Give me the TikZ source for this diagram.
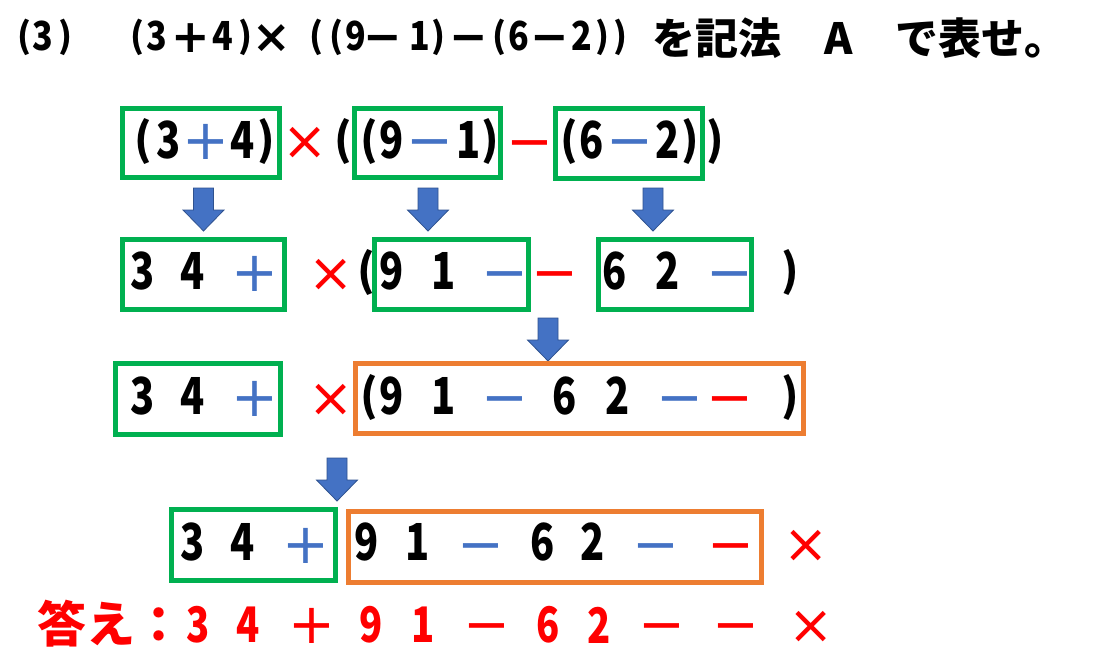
\documentclass[tikz,border=0pt]{standalone}
\usepackage{fontspec}
\usepackage{graphicx}
\newfontfamily\jp{Noto Sans CJK JP}
\newfontfamily\dv{DejaVu Sans}
\definecolor{cgreen}{HTML}{00B050}
\definecolor{corange}{HTML}{ED7D31}
\definecolor{cblue}{HTML}{4472C4}
\definecolor{cred}{HTML}{FF0000}
\definecolor{carrowline}{HTML}{2F528F}
\newcommand\nd[1]{\scalebox{0.78}[1]{#1}}
\newcommand\tnd[1]{\scalebox{0.85}[1]{#1}}
\newcommand\blockarrow[2]{%
  \draw[barrow] (#1-10,#2) -- (#1+10,#2) -- (#1+10,#2+22) -- (#1+20.5,#2+22)
     -- (#1,#2+43) -- (#1-20.5,#2+22) -- (#1-10,#2+22) -- cycle;}
\tikzset{
  glyph/.style={inner sep=0pt, outer sep=0pt, anchor=center},
  dig/.style={glyph, font=\jp\bfseries\fontsize{51}{51}\selectfont},
  par/.style={glyph, font=\jp\bfseries\fontsize{44}{44}\selectfont},
  sym/.style={inner sep=0pt, outer sep=0pt, anchor=base, yshift=-20pt, font=\dv\fontsize{56}{56}\selectfont},
  tms/.style={inner sep=0pt, outer sep=0pt, anchor=base, yshift=-19pt, text=cred, font=\dv\fontsize{54}{54}\selectfont},
  tdig/.style={glyph, font=\jp\bfseries\fontsize{40}{40}\selectfont},
  tpar/.style={glyph, font=\jp\bfseries\fontsize{35}{35}\selectfont},
  tsym/.style={inner sep=0pt, outer sep=0pt, anchor=base, yshift=-16.5pt, font=\dv\bfseries\fontsize{46}{46}\selectfont},
  ttxt/.style={glyph, anchor=west, font=\jp\bfseries\fontsize{43}{43}\selectfont},
  ans/.style={glyph, text=cred, font=\jp\bfseries\fontsize{49}{49}\selectfont},
  gbox/.style={draw=cgreen, line width=5pt, inner sep=0pt, fill=none},
  obox/.style={draw=corange, line width=5pt, inner sep=0pt, fill=none},
  barrow/.style={fill=cblue, draw=carrowline, line width=0.8pt, line join=miter},
}
\begin{document}
\begin{tikzpicture}[x=1pt,y=-1pt]
\fill[white] (0,0) rectangle (1098,653);
\useasboundingbox (0,0) rectangle (1098,653);
% ---------------- title
\node[tpar] (t1) at (24,37) {(};
\node[tdig] (t2) at (43,36) {\tnd{3}};
\node[tpar] (t3) at (65,37) {)};
\node[tpar] (t4) at (137.5,37) {(};
\node[tdig] (t5) at (157,36) {\tnd{3}};
\node[tsym] (t6) at (191,36) {+};
\node[tdig] (t7) at (223,36) {\tnd{4}};
\node[tpar] (t8) at (245,37) {)};
\node[tsym] (t9) at (272,36) {×};
\node[tpar] (t10) at (316,37) {(};
\node[tpar] (t11) at (336,37) {(};
\node[tdig] (t12) at (355.5,36) {\tnd{9}};
\node[tsym] (t13) at (383,36) {−};
\node[tdig] (t14) at (420,36) {\tnd{1}};
\node[tpar] (t15) at (438.5,37) {)};
\node[tsym] (t16) at (468.5,36) {−};
\node[tpar] (t17) at (499,37) {(};
\node[tdig] (t18) at (519,36) {\tnd{6}};
\node[tsym] (t19) at (550,36) {−};
\node[tdig] (t20) at (582,36) {\tnd{2}};
\node[tpar] (t21) at (602.5,37) {)};
\node[tpar] (t22) at (620,37) {)};
\node[ttxt] (t23) at (652,38) {を記法\hspace{1em}A\hspace{1em}で表せ。};
% ---------------- row 1
\node[par] (r1p1) at (143.5,141.5) {(};
\node[dig] (r1d3) at (168.5,140) {\nd{3}};
\node[sym,text=cblue] (r1s1) at (205.5,139) {+};
\node[dig] (r1d4) at (242.5,140) {\nd{4}};
\node[par] (r1p2) at (266.5,141.5) {)};
\node[tms] (r1x) at (305,140) {×};
\node[par] (r1p3) at (343.5,141.5) {(};
\node[par] (r1p4) at (369.5,141.5) {(};
\node[dig] (r1d9) at (392,140) {\nd{9}};
\node[sym,text=cblue] (r1s2) at (430,139) {−};
\node[dig] (r1d1) at (468.5,140) {\nd{1}};
\node[par] (r1p5) at (490.5,141.5) {)};
\node[sym,text=cred] (r1s3) at (530,140) {−};
\node[par] (r1p6) at (569.5,141.5) {(};
\node[dig] (r1d6) at (591.5,140) {\nd{6}};
\node[sym,text=cblue] (r1s4) at (630,139) {−};
\node[dig] (r1d2) at (668,140) {\nd{2}};
\node[par] (r1p7) at (690.5,141.5) {)};
\node[par] (r1p8) at (715.5,141.5) {)};
\node[gbox, minimum width=157pt, minimum height=69pt] (b11) at (201,143) {};
\node[gbox, minimum width=146pt, minimum height=69pt] (b12) at (427.5,143) {};
\node[gbox, minimum width=147pt, minimum height=70pt] (b13) at (629,143.5) {};
% arrows 1 -> 2
\blockarrow{203.5}{188}
\blockarrow{428}{188}
\blockarrow{653}{188}
% ---------------- row 2
\node[dig] (r2d3) at (143,271) {\nd{3}};
\node[dig] (r2d4) at (193,271) {\nd{4}};
\node[sym,text=cblue] (r2s1) at (255,271) {+};
\node[tms] (r2x) at (331,272) {×};
\node[par] (r2p1) at (366.5,273) {(};
\node[dig] (r2d9) at (392,271) {\nd{9}};
\node[dig] (r2d1) at (443.5,271) {\nd{1}};
\node[sym,text=cblue] (r2s2) at (505,271) {−};
\node[sym,text=cred] (r2s3) at (555,271) {−};
\node[dig] (r2d6) at (615,271) {\nd{6}};
\node[dig] (r2d2) at (667.5,271) {\nd{2}};
\node[sym,text=cblue] (r2s4) at (730,271) {−};
\node[par] (r2p2) at (790.5,273) {)};
\node[gbox, minimum width=162pt, minimum height=70pt] (b21) at (203.5,274.5) {};
\node[gbox, minimum width=154pt, minimum height=70pt] (b22) at (451.5,274.5) {};
\node[gbox, minimum width=153pt, minimum height=70pt] (b23) at (675,274.5) {};
\blockarrow{548}{318}
% ---------------- row 3
\node[dig] (r3d3) at (143,396) {\nd{3}};
\node[dig] (r3d4) at (193,396) {\nd{4}};
\node[sym,text=cblue] (r3s1) at (255,396) {+};
\node[tms] (r3x) at (331,397) {×};
\node[par] (r3p1) at (369.5,398) {(};
\node[dig] (r3d9) at (392,396) {\nd{9}};
\node[dig] (r3d1) at (443.5,396) {\nd{1}};
\node[sym,text=cblue] (r3s2) at (505,396) {−};
\node[dig] (r3d6) at (565,396) {\nd{6}};
\node[dig] (r3d2) at (617.5,396) {\nd{2}};
\node[sym,text=cblue] (r3s3) at (680,396) {−};
\node[sym,text=cred] (r3s4) at (730,396) {−};
\node[par] (r3p2) at (790.5,398) {)};
\node[gbox, minimum width=165pt, minimum height=71pt] (b31) at (198,399) {};
\node[obox, minimum width=448pt, minimum height=70pt] (o32) at (579.5,398.5) {};
\blockarrow{337}{458}
% ---------------- row 4
\node[dig] (r4d3) at (193,542) {\nd{3}};
\node[dig] (r4d4) at (242.5,542) {\nd{4}};
\node[sym,text=cblue] (r4s1) at (306,543) {+};
\node[dig] (r4d9) at (367,542) {\nd{9}};
\node[dig] (r4d1) at (418,542) {\nd{1}};
\node[sym,text=cblue] (r4s2) at (480.5,543) {−};
\node[dig] (r4d6) at (543,542) {\nd{6}};
\node[dig] (r4d2) at (593,542) {\nd{2}};
\node[sym,text=cblue] (r4s3) at (655.5,543) {−};
\node[sym,text=cred] (r4s4) at (730.5,543) {−};
\node[tms] (r4x) at (806,543) {×};
\node[gbox, minimum width=164pt, minimum height=71pt] (b41) at (253.5,545) {};
\node[obox, minimum width=413pt, minimum height=71pt] (o42) at (555,547) {};
% ---------------- answer
\node[ans] (a0) at (110.5,624) {答え：};
\node[ans] (a1) at (198,625) {\nd{3}};
\node[ans] (a2) at (248.5,625) {\nd{4}};
\node[sym,text=cred] (a3) at (311.5,623) {+};
\node[ans] (a4) at (371,625) {\nd{9}};
\node[ans] (a5) at (423.5,625) {\nd{1}};
\node[sym,text=cred] (a6) at (486.5,623) {−};
\node[ans] (a7) at (548,625) {\nd{6}};
\node[ans] (a8) at (599,625) {\nd{2}};
\node[sym,text=cred] (a9) at (661.5,623) {−};
\node[sym,text=cred] (a10) at (736,623) {−};
\node[tms] (a11) at (811,624) {×};
\end{tikzpicture}
\end{document}
